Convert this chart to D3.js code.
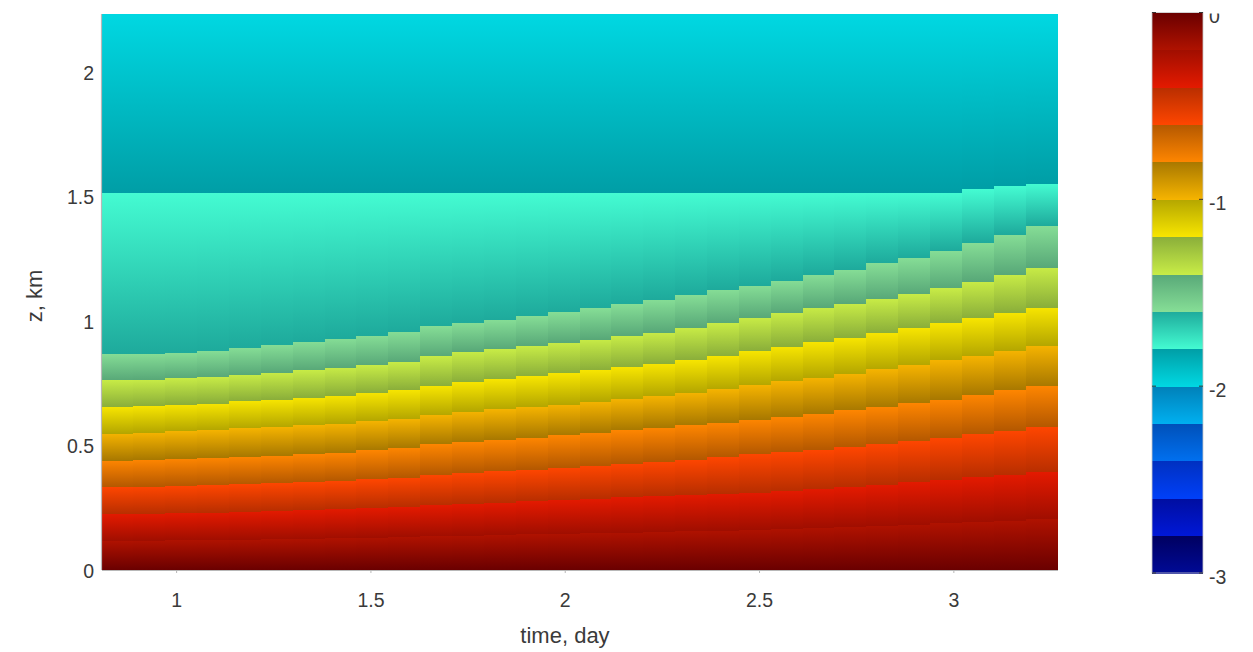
<!DOCTYPE html>
<html>
<head>
<meta charset="utf-8">
<script src="https://cdn.jsdelivr.net/npm/d3@7/dist/d3.min.js"></script>
<style>
  html, body { margin: 0; padding: 0; background: #ffffff; }
  svg { display: block; }
  text { font-family: "Liberation Sans", Arial, Helvetica, sans-serif; fill: #3a3a3a; }
</style>
</head>
<body>
<svg id="chart" width="1253" height="652"></svg>
<script>
// ---- data ---------------------------------------------------------------
// centre time of each model output column (days)
const times = [0.849, 0.931, 1.013, 1.095, 1.177, 1.259, 1.341, 1.423, 1.505, 1.587,
               1.669, 1.751, 1.833, 1.915, 1.997, 2.079, 2.161, 2.243, 2.325, 2.407,
               2.489, 2.571, 2.653, 2.735, 2.817, 2.899, 2.981, 3.063, 3.145, 3.227];

// colour levels of the field (15 classes of 0.2)
const levelEdges = [-3, -2.8, -2.6, -2.4, -2.2, -2, -1.8, -1.6, -1.4, -1.2, -1, -0.8, -0.6, -0.4, -0.2, 0];

// value at the ground and at the top of the domain
const surfaceValue = 0;
const topValue = -2;
const zTop = 2.233;

// height (km) of each isoline, one entry per time column
const isoMinus02 = [0.116, 0.118, 0.119, 0.120, 0.122, 0.123, 0.124, 0.127, 0.130, 0.133,
                    0.135, 0.138, 0.141, 0.143, 0.146, 0.149, 0.151, 0.154, 0.157, 0.159,
                    0.162, 0.166, 0.170, 0.174, 0.178, 0.183, 0.189, 0.194, 0.199, 0.205];
const isoMinus04 = [0.224, 0.225, 0.228, 0.230, 0.234, 0.237, 0.241, 0.245, 0.249, 0.253,
                    0.260, 0.265, 0.270, 0.276, 0.281, 0.286, 0.292, 0.297, 0.303, 0.307,
                    0.311, 0.317, 0.327, 0.333, 0.343, 0.352, 0.363, 0.373, 0.383, 0.392];
const isoMinus06 = [0.333, 0.335, 0.337, 0.340, 0.344, 0.348, 0.352, 0.357, 0.364, 0.371,
                    0.382, 0.390, 0.396, 0.403, 0.411, 0.419, 0.427, 0.436, 0.444, 0.454,
                    0.465, 0.473, 0.482, 0.493, 0.505, 0.518, 0.531, 0.545, 0.560, 0.574];
const isoMinus08 = [0.440, 0.443, 0.448, 0.451, 0.455, 0.459, 0.465, 0.471, 0.481, 0.491,
                    0.505, 0.515, 0.523, 0.531, 0.542, 0.552, 0.561, 0.572, 0.582, 0.592,
                    0.604, 0.614, 0.628, 0.641, 0.655, 0.671, 0.685, 0.704, 0.722, 0.739];
const isoMinus10 = [0.548, 0.552, 0.557, 0.562, 0.569, 0.574, 0.581, 0.588, 0.598, 0.606,
                    0.622, 0.636, 0.645, 0.655, 0.665, 0.676, 0.687, 0.699, 0.712, 0.726,
                    0.742, 0.758, 0.772, 0.788, 0.806, 0.823, 0.842, 0.859, 0.880, 0.900];
const isoMinus12 = [0.655, 0.659, 0.665, 0.669, 0.679, 0.684, 0.692, 0.701, 0.712, 0.723,
                    0.739, 0.755, 0.766, 0.778, 0.790, 0.802, 0.814, 0.829, 0.843, 0.859,
                    0.880, 0.898, 0.916, 0.933, 0.952, 0.972, 0.992, 1.012, 1.033, 1.054];
const isoMinus14 = [0.762, 0.764, 0.770, 0.775, 0.784, 0.793, 0.802, 0.813, 0.822, 0.835,
                    0.858, 0.877, 0.886, 0.900, 0.913, 0.926, 0.940, 0.954, 0.973, 0.991,
                    1.013, 1.033, 1.054, 1.070, 1.088, 1.107, 1.131, 1.159, 1.187, 1.214];
const isoMinus16 = [0.869, 0.869, 0.871, 0.880, 0.893, 0.904, 0.917, 0.930, 0.942, 0.957,
                    0.979, 0.993, 1.005, 1.020, 1.035, 1.051, 1.067, 1.086, 1.104, 1.126,
                    1.142, 1.163, 1.186, 1.206, 1.232, 1.253, 1.282, 1.315, 1.347, 1.382];
const isoMinus18 = [1.515, 1.515, 1.515, 1.515, 1.515, 1.515, 1.515, 1.515, 1.515, 1.515,
                    1.515, 1.515, 1.515, 1.515, 1.515, 1.515, 1.515, 1.515, 1.515, 1.515,
                    1.515, 1.515, 1.515, 1.515, 1.515, 1.515, 1.515, 1.529, 1.542, 1.551];

const xTicks = [1, 1.5, 2, 2.5, 3];
const zTicks = [0, 0.5, 1, 1.5, 2];
const barTicks = [0, -1, -2, -3];

// ---- palette: each class goes from its bright (low value) to dark (high value) tone
const brightTone = ["#000a96", "#0018d8", "#0040f8", "#0070f0", "#00b0f0", "#00d8e2",
                    "#44fcd2", "#86de96", "#c8ec46", "#f8e600", "#f6b400", "#ff8600",
                    "#ff4600", "#e41a00", "#b01200"];
const darkTone   = ["#000060", "#000ea0", "#0030c0", "#0050b8", "#0080b8", "#009ea6",
                    "#1eaa9c", "#58a878", "#8aae3a", "#b4a600", "#a87800", "#b45800",
                    "#b82e00", "#a00e00", "#6a0000"];

// ---- layout -------------------------------------------------------------
const svg = d3.select("#chart");
const plot = { left: 101.5, right: 1057.5, top: 13.5, bottom: 569.5 };
const bar = { left: 1152, right: 1203, top: 12.5, bottom: 573 };

const tLeft = times[0] - (times[1] - times[0]) / 2;
const tRight = times[times.length - 1] + (times[times.length - 1] - times[times.length - 2]) / 2;

const x = d3.scaleLinear().domain([tLeft, tRight]).range([plot.left, plot.right]);
const y = d3.scaleLinear().domain([0, zTop]).range([plot.bottom, plot.top]);
const cb = d3.scaleLinear().domain([levelEdges[0], levelEdges[levelEdges.length - 1]])
  .range([bar.bottom, bar.top]);

// gradients: in the field the low value sits on top, in the colour bar at the bottom
const defs = svg.append("defs");
function addGradient(id, i, lowOnTop) {
  const g = defs.append("linearGradient").attr("id", id)
    .attr("x1", 0).attr("x2", 0).attr("y1", 0).attr("y2", 1);
  g.append("stop").attr("offset", "0%").attr("stop-color", lowOnTop ? brightTone[i] : darkTone[i]);
  g.append("stop").attr("offset", "100%").attr("stop-color", lowOnTop ? darkTone[i] : brightTone[i]);
}
brightTone.forEach((c, i) => { addGradient("field" + i, i, true); addGradient("bar" + i, i, false); });

const levelIndex = v => Math.round((v - levelEdges[0]) / (levelEdges[1] - levelEdges[0]));

// isolines from the ground upwards
const isolines = [
  { value: surfaceValue, z: times.map(() => 0) },
  { value: -0.2, z: isoMinus02 },
  { value: -0.4, z: isoMinus04 },
  { value: -0.6, z: isoMinus06 },
  { value: -0.8, z: isoMinus08 },
  { value: -1.0, z: isoMinus10 },
  { value: -1.2, z: isoMinus12 },
  { value: -1.4, z: isoMinus14 },
  { value: -1.6, z: isoMinus16 },
  { value: -1.8, z: isoMinus18 },
  { value: topValue, z: times.map(() => zTop) }
];

// column edges in time
const edges = times.map((t, k) => k === 0 ? tLeft : (times[k - 1] + t) / 2);
edges.push(tRight);

const cells = [];
times.forEach((t, k) => {
  for (let j = 0; j < isolines.length - 1; j++) {
    cells.push({
      t0: edges[k], t1: edges[k + 1],
      zLow: isolines[j].z[k], zHigh: isolines[j + 1].z[k],
      level: levelIndex(isolines[j + 1].value)
    });
  }
});

const field = svg.append("g").attr("class", "field");
field.selectAll("rect").data(cells).join("rect")
  .attr("x", d => x(d.t0))
  .attr("width", d => x(d.t1) - x(d.t0) + 0.6)
  .attr("y", d => y(d.zHigh))
  .attr("height", d => y(d.zLow) - y(d.zHigh) + 0.6)
  .attr("fill", d => `url(#field${d.level})`)
  .attr("shape-rendering", "crispEdges");

// ---- axes ---------------------------------------------------------------
const axisColor = "#b8b8b8";
const xAxis = svg.append("g").attr("transform", `translate(0,${plot.bottom + 0.5})`)
  .call(d3.axisBottom(x).tickValues(xTicks).tickFormat(d => String(d)).tickSizeInner(3).tickSizeOuter(0).tickPadding(20));
const yAxis = svg.append("g").attr("transform", `translate(${plot.left - 0.5},0)`)
  .call(d3.axisLeft(y).tickValues(zTicks).tickFormat(d => String(d)).tickSizeInner(0).tickSizeOuter(0).tickPadding(7));
[xAxis, yAxis].forEach(a => {
  a.select(".domain").attr("stroke", axisColor).attr("stroke-width", 1.2);
  a.selectAll(".tick line").attr("stroke", axisColor);
  a.selectAll(".tick text").style("font-size", "19.5px").attr("fill", "#3a3a3a")
    .style("font-family", "'Liberation Sans', Arial, sans-serif");
});
yAxis.selectAll(".tick text").attr("dy", "0.4em");

svg.append("text").attr("x", 565).attr("y", 643).attr("text-anchor", "middle")
  .style("font-size", "22px").text("time, day");
svg.append("text").attr("transform", "translate(42,296) rotate(-90)").attr("text-anchor", "middle")
  .style("font-size", "22px").text("z, km");

// ---- colour bar -----------------------------------------------------------
const barG = svg.append("g").attr("class", "colorbar");
const barLevels = levelEdges.slice(0, -1).map((v, i) => ({ lo: v, hi: levelEdges[i + 1], i }));
barG.selectAll("rect").data(barLevels).join("rect")
  .attr("x", bar.left).attr("width", bar.right - bar.left)
  .attr("y", d => cb(d.hi)).attr("height", d => cb(d.lo) - cb(d.hi) + 0.5)
  .attr("fill", d => `url(#bar${d.i})`)
  .attr("shape-rendering", "crispEdges");
barG.append("rect").attr("x", bar.left).attr("y", bar.top)
  .attr("width", bar.right - bar.left).attr("height", bar.bottom - bar.top)
  .attr("fill", "none").attr("stroke", "#c8c8c8").attr("stroke-width", 0.8);
barG.selectAll("line.tk").data(barTicks.flatMap(v => [[v, bar.left, 4], [v, bar.right, -4]]))
  .join("line").attr("class", "tk")
  .attr("x1", d => d[1]).attr("x2", d => d[1] + d[2])
  .attr("y1", d => cb(d[0])).attr("y2", d => cb(d[0]))
  .attr("stroke", "#333").attr("stroke-width", 1);

defs.append("clipPath").attr("id", "barLabelClip").append("rect")
  .attr("x", bar.right).attr("y", bar.top + 1).attr("width", 60).attr("height", 652);
barG.append("g").attr("clip-path", "url(#barLabelClip)")
  .selectAll("text").data(barTicks).join("text")
  .attr("x", bar.right + 6).attr("y", d => cb(d) + 4).attr("dy", "0.35em")
  .style("font-size", "19.5px").text(d => String(d));
</script>
</body>
</html>
